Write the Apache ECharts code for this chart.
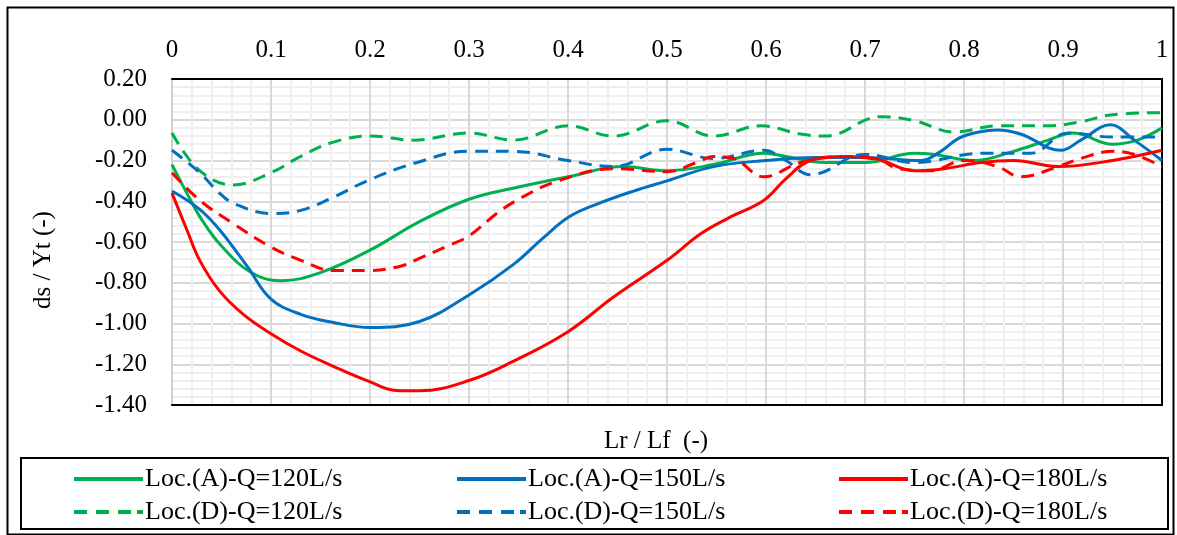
<!DOCTYPE html>
<html>
<head>
<meta charset="utf-8">
<script src="https://cdn.jsdelivr.net/npm/echarts@6/dist/echarts.min.js"></script>
<style>html,body{margin:0;padding:0;background:#fff}#c{width:1177px;height:535px}</style>
</head>
<body>
<div id="c"></div>
<script>
// ---- data ----
const xTickLabels = ['0','0.1','0.2','0.3','0.4','0.5','0.6','0.7','0.8','0.9','1'];
const yTickLabels = ['0.20','0.00','-0.20','-0.40','-0.60','-0.80','-1.00','-1.20','-1.40'];
const seriesNames = ['Loc.(A)-Q=120L/s','Loc.(A)-Q=150L/s','Loc.(A)-Q=180L/s','Loc.(D)-Q=120L/s','Loc.(D)-Q=150L/s','Loc.(D)-Q=180L/s'];

const a120X = [0,0.015,0.03,0.05,0.08,0.11,0.15,0.2,0.25,0.3,0.35,0.4,0.456,0.5,0.547,0.598,0.62,0.66,0.70,0.75,0.77,0.81,0.85,0.885,0.91,0.95,0.975,1.0];
const a120Y = [-0.22,-0.36,-0.49,-0.62,-0.75,-0.79,-0.75,-0.64,-0.50,-0.39,-0.33,-0.28,-0.23,-0.25,-0.22,-0.165,-0.18,-0.21,-0.21,-0.165,-0.17,-0.20,-0.155,-0.10,-0.065,-0.12,-0.10,-0.04];

const a150X = [0,0.028,0.048,0.076,0.1,0.13,0.163,0.2,0.25,0.3,0.345,0.375,0.4,0.426,0.466,0.5,0.547,0.6,0.65,0.7,0.757,0.775,0.795,0.815,0.834,0.857,0.898,0.918,0.948,0.972,1.0];
const a150Y = [-0.35,-0.44,-0.54,-0.72,-0.88,-0.955,-0.995,-1.02,-0.99,-0.86,-0.71,-0.58,-0.48,-0.42,-0.35,-0.30,-0.23,-0.20,-0.185,-0.185,-0.20,-0.16,-0.09,-0.06,-0.05,-0.07,-0.15,-0.10,-0.025,-0.10,-0.20];

const a180X = [0,0.015,0.028,0.048,0.072,0.1,0.13,0.163,0.197,0.23,0.25,0.3,0.345,0.4,0.446,0.5,0.534,0.561,0.598,0.62,0.645,0.68,0.71,0.75,0.78,0.817,0.85,0.895,0.95,1.0];
const a180Y = [-0.36,-0.54,-0.69,-0.84,-0.955,-1.05,-1.135,-1.21,-1.28,-1.33,-1.33,-1.28,-1.185,-1.04,-0.87,-0.69,-0.56,-0.485,-0.395,-0.29,-0.20,-0.18,-0.19,-0.25,-0.24,-0.21,-0.20,-0.23,-0.20,-0.15];

const d120X = [0,0.028,0.062,0.1,0.13,0.163,0.2,0.244,0.3,0.345,0.4,0.446,0.5,0.547,0.595,0.635,0.66,0.716,0.75,0.79,0.834,0.885,0.918,0.95,1.0];
const d120Y = [-0.065,-0.25,-0.32,-0.26,-0.18,-0.11,-0.08,-0.10,-0.065,-0.10,-0.03,-0.08,-0.005,-0.08,-0.03,-0.07,-0.08,0.015,-0.005,-0.06,-0.03,-0.03,-0.01,0.025,0.035];

const d150X = [0,0.028,0.048,0.062,0.1,0.13,0.163,0.197,0.244,0.3,0.345,0.4,0.446,0.5,0.547,0.598,0.62,0.645,0.70,0.75,0.817,0.867,0.905,0.95,1.0];
const d150Y = [-0.15,-0.26,-0.36,-0.41,-0.46,-0.445,-0.38,-0.30,-0.215,-0.155,-0.155,-0.20,-0.23,-0.145,-0.19,-0.15,-0.20,-0.27,-0.17,-0.21,-0.165,-0.165,-0.065,-0.085,-0.085];

const d180X = [0,0.028,0.062,0.1,0.13,0.163,0.197,0.23,0.25,0.278,0.3,0.328,0.352,0.39,0.446,0.5,0.53,0.547,0.567,0.598,0.635,0.68,0.716,0.733,0.766,0.80,0.834,0.857,0.895,0.918,0.95,0.972,1.0];
const d180Y = [-0.26,-0.395,-0.51,-0.625,-0.69,-0.74,-0.74,-0.72,-0.68,-0.62,-0.57,-0.46,-0.385,-0.30,-0.24,-0.255,-0.21,-0.18,-0.19,-0.28,-0.21,-0.18,-0.20,-0.24,-0.25,-0.20,-0.23,-0.28,-0.23,-0.19,-0.155,-0.17,-0.23];

const colors = ['#00B050','#0070C0','#FF0000','#00B050','#0070C0','#FF0000'];
const dashed = [false,false,false,true,true,true];
const xs = [a120X,a150X,a180X,d120X,d150X,d180X];
const ys = [a120Y,a150Y,a180Y,d120Y,d150Y,d180Y];

// ---- chart ----
const FONT = '"Liberation Serif","Times New Roman",serif';
const chart = echarts.init(document.getElementById('c'), null, {renderer:'canvas'});

const series = seriesNames.map((n,i)=>({
  name:n, type:'line', smooth:0.4, showSymbol:false, symbol:'none',
  data: xs[i].map((x,k)=>[x, ys[i][k]]),
  lineStyle:{color:colors[i], width:3, type: dashed[i] ? [13,8] : 'solid', cap:'butt'},
  itemStyle:{color:colors[i]},
  z: 3
}));

const ICON_SOLID = 'path://M0,0h69v4h-69z';
const ICON_DASH = 'path://M0,0h13v4h-13zM22,0h13v4h-13zM44,0h13v4h-13zM63,0h6v4h-6z';
const legendCols = [74, 457, 839];
const legendRows = [479, 512];
const legends = seriesNames.map((n,i)=>({
  data:[{name:n, icon: dashed[i] ? ICON_DASH : ICON_SOLID, itemStyle:{color:colors[i], borderWidth:0}}],
  left: legendCols[i%3],
  top: legendRows[Math.floor(i/3)] - 13,
  itemWidth: 69, itemHeight: 4, itemGap: 0,
  padding: 0,
  textStyle:{fontFamily:FONT, fontSize:26, color:'#000', lineHeight:26, padding:[0,0,0,-3]},
  selectedMode:false
}));

const yMin = -1.4, yMax = 0.2;
chart.setOption({
  animation:false,
  backgroundColor:'#fff',
  grid:{left:172, right:15, top:79, bottom:130, containLabel:false},
  xAxis:[{
    type:'value', min:0, max:1, interval:0.1, position:'top',
    axisLine:{show:true, onZero:false, lineStyle:{color:'#000', width:2}},
    axisTick:{show:false},
    axisLabel:{fontFamily:FONT, fontSize:25, color:'#000', margin:16,
      formatter:(v)=>xTickLabels[Math.round(v*10)]},
    splitLine:{show:true, lineStyle:{color:'#d9d9d9', width:2}},
    minorTick:{show:false, splitNumber:5},
    minorSplitLine:{show:true, lineStyle:{color:'#efefef', width:2}}
  },{
    type:'value', min:0, max:1, interval:0.1, position:'bottom',
    axisLine:{show:true, onZero:false, lineStyle:{color:'#000', width:2}},
    axisTick:{show:false}, axisLabel:{show:false}, splitLine:{show:false}
  }],
  yAxis:[{
    type:'value', min:yMin, max:yMax, interval:0.2,
    axisLine:{show:true, onZero:false, lineStyle:{color:'#d0d0d0', width:2}},
    axisTick:{show:false},
    axisLabel:{fontFamily:FONT, fontSize:25, color:'#000', margin:25,
      formatter:(v)=>yTickLabels[Math.round((yMax - v)/0.2)]},
    splitLine:{show:true, lineStyle:{color:'#d9d9d9', width:2}},
    minorTick:{show:false, splitNumber:5},
    minorSplitLine:{show:true, lineStyle:{color:'#efefef', width:2}}
  },{
    type:'value', min:yMin, max:yMax, interval:0.2, position:'right',
    axisLine:{show:true, onZero:false, lineStyle:{color:'#000', width:2}},
    axisTick:{show:false}, axisLabel:{show:false}, splitLine:{show:false}
  }],
  legend: legends,
  series: series,
  graphic:[
    {type:'rect', left:5, top:5, shape:{x:0,y:0,width:1166,height:527}, style:{fill:'none', stroke:'#000', lineWidth:2}, silent:true, z:-1},
    {type:'rect', shape:{x:21,y:458,width:1147,height:71}, style:{fill:'none', stroke:'#000', lineWidth:2}, silent:true},
    {type:'text', x:656, y:441, style:{text:'Lr / Lf  (-)', font:'25px '+FONT, fill:'#000', textAlign:'center', textVerticalAlign:'middle'}},
    {type:'text', x:43, y:260, rotation:Math.PI/2, style:{text:'ds / Yt (-)', font:'25px '+FONT, fill:'#000', textAlign:'center', textVerticalAlign:'middle'}}
  ]
});
</script>
</body>
</html>
